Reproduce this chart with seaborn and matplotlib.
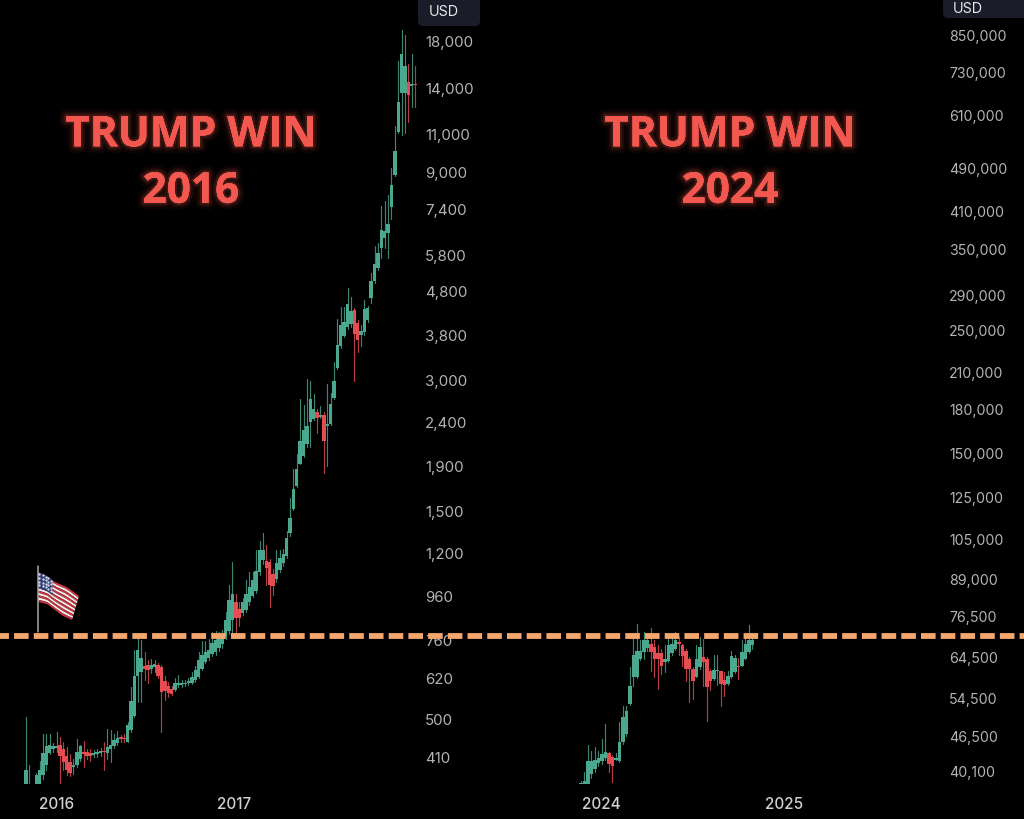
import numpy as np
import pandas as pd
import seaborn as sns
import matplotlib.pyplot as plt
import matplotlib.patheffects as pe
from matplotlib.patches import FancyBboxPatch, Polygon

# weekly BTC candles around the 2016 election
left_start = "2015-10-29"
left_open = [
    340, 335, 340, 350, 345, 371, 392, 418, 425, 428,
    436, 425, 410, 397, 388, 391, 403, 420, 420, 418,
    412, 414, 416, 421, 418, 425, 432, 440, 453, 451,
    443, 472, 508, 625, 640, 660, 662, 650, 655, 665,
    655, 610, 595, 585, 582, 597, 598, 601, 604, 605,
    612, 624, 650, 675, 690, 705, 712, 725, 740, 772,
    795, 842, 925, 890, 875, 885, 925, 955, 980, 1085,
    1155, 1150, 1145, 1075, 1045, 1095, 1135, 1180, 1335, 1510,
    1710, 1920, 2000, 2130, 2400, 2430, 2530, 2460, 2490, 2340,
    2370, 2720, 3180, 3570, 3780, 3950, 4020, 4330, 4050, 3800,
    3850, 4100, 4600, 5050, 5400, 6010, 6320, 6500, 7450, 8850,
    11100, 13600, 13600, 14400, 14100, 14300,
]
left_high = [
    505, 392, 350, 376, 400, 462, 462, 461, 440, 465,
    453, 441, 430, 414, 403, 448, 435, 444, 426, 425,
    424, 425, 428, 441, 473, 470, 461, 468, 458, 460,
    490, 590, 719, 770, 758, 712, 682, 685, 682, 672,
    665, 625, 608, 595, 620, 630, 612, 612, 620, 640,
    660, 712, 755, 755, 760, 790, 795, 790, 800, 880,
    1010, 1145, 965, 925, 945, 1038, 1085, 1085, 1215, 1280,
    1335, 1250, 1160, 1100, 1215, 1215, 1225, 1350, 1600, 1870,
    2020, 2710, 2620, 3000, 2980, 2780, 2570, 2600, 2530, 2920,
    2790, 3290, 4120, 4400, 4400, 4870, 4630, 4380, 4100, 4000,
    4550, 4420, 5270, 6060, 6170, 7500, 7700, 7930, 9140, 11440,
    16100, 19000, 18500, 15900, 16700, 15700,
]
left_low = [
    330, 330, 325, 340, 340, 364, 382, 415, 420, 420,
    354, 382, 371, 369, 373, 388, 400, 388, 405, 400,
    408, 408, 410, 382, 403, 397, 428, 435, 443, 441,
    441, 467, 505, 545, 545, 612, 605, 635, 640, 618,
    467, 553, 560, 565, 580, 590, 590, 595, 597, 600,
    608, 620, 645, 670, 680, 695, 700, 715, 725, 760,
    780, 780, 770, 815, 865, 880, 910, 950, 970, 1070,
    1130, 1010, 900, 960, 1030, 1085, 1120, 1165, 1310, 1505,
    1695, 1920, 1990, 2100, 2100, 2420, 2260, 2440, 1830, 1900,
    2360, 2710, 3170, 3540, 3750, 3920, 3950, 2980, 3470, 3580,
    3800, 4070, 4480, 4980, 5350, 5700, 6000, 5700, 7000, 8800,
    11000, 10900, 11000, 11700, 12650, 12650,
]
left_close = [
    382, 350, 345, 372, 381, 418, 432, 434, 432, 432,
    410, 397, 382, 376, 391, 420, 432, 414, 410, 410,
    417, 420, 421, 419, 430, 436, 447, 452, 449, 448,
    483, 550, 625, 720, 690, 650, 645, 665, 668, 625,
    575, 578, 573, 570, 605, 604, 604, 605, 611, 624,
    647, 682, 700, 712, 719, 745, 757, 765, 780, 842,
    935, 965, 850, 850, 925, 965, 1000, 1040, 1090, 1215,
    1215, 1110, 1010, 1005, 1140, 1170, 1190, 1300, 1445, 1685,
    1865, 2165, 2290, 2350, 2710, 2570, 2450, 2490, 2170, 2370,
    2640, 2970, 3590, 4000, 4060, 4470, 4300, 3810, 3690, 3880,
    4350, 4380, 5050, 5530, 5855, 6600, 6570, 6810, 8360, 10000,
    13000, 16700, 15700, 13500, 14300, 14200,
]
left_ticks = [18000, 14000, 11000, 9000, 7400, 5800, 4800, 3800, 3000,
              2400, 1900, 1500, 1200, 960, 760, 620, 500, 410]
left_years = ["2016", "2017"]

# weekly BTC candles before the 2024 election
right_start = "2023-11-22"
right_open = [
    37900, 37900, 37500, 39600, 40400, 41400, 41800, 42300, 43200, 42500,
    42000, 41800, 45200, 46800, 53000, 59300, 59300, 63900, 65700, 66700,
    68000, 67000, 65500, 65300, 63100, 63400, 65300, 66600, 68400, 67700,
    66000, 63900, 61300, 59300, 61800, 64300, 63900, 60700, 58800, 60800,
    60700, 58600, 57600, 59300, 60500, 62000, 62000, 63900, 65700, 67500,
]
right_high = [
    38500, 40000, 44700, 43600, 44300, 43500, 45800, 48800, 43400, 42800,
    43200, 49100, 52600, 52600, 61800, 69500, 73700, 68900, 71500, 70000,
    72700, 69000, 67500, 66500, 67500, 70000, 69500, 71500, 70000, 68000,
    66400, 64300, 61700, 67500, 70000, 69400, 64300, 61100, 64900, 64800,
    60800, 60500, 60800, 66000, 65000, 64000, 69000, 70000, 73400, 69800,
]
right_low = [
    37500, 37500, 37500, 39000, 40000, 41000, 41300, 41900, 39900, 38300,
    41900, 41700, 44900, 46300, 52700, 57000, 59000, 63500, 63900, 65900,
    60800, 59300, 56400, 60000, 60500, 63000, 65000, 66200, 65000, 61900,
    58300, 53400, 54100, 59200, 61300, 57000, 49400, 56000, 58400, 57300,
    52400, 54700, 57400, 59000, 60200, 58800, 61900, 63800, 65300, 66500,
]
right_close = [
    38200, 38500, 41800, 41800, 42000, 42400, 43000, 43300, 41300, 41000,
    42300, 45200, 50200, 51500, 57100, 64800, 66000, 66000, 69000, 68900,
    65700, 63900, 63900, 62100, 63700, 67500, 68000, 68900, 68000, 64700,
    61300, 61300, 58300, 63900, 67200, 63100, 56900, 58300, 61000, 61000,
    57500, 57200, 59500, 64600, 64000, 61600, 65700, 68000, 69000, 69000,
]
right_ticks = [850000, 730000, 610000, 490000, 410000, 350000, 290000, 250000,
               210000, 180000, 150000, 125000, 105000, 89000, 76500, 64500,
               54500, 46500, 40100]
right_years = ["2024", "2025"]

GREEN = "#4aa88e"
RED = "#e54d52"
TICK_COLOR = "#b4b4b4"


def draw_candles(ax, start, opens, highs, lows, closes):
    dates = pd.date_range(start, periods=len(opens), freq="7D")
    df = pd.DataFrame({"date": dates, "open": opens, "high": highs,
                       "low": lows, "close": closes})
    df["direction"] = np.where(df["close"] >= df["open"], "up", "down")

    # wicks, one short line per candle
    wicks = df.melt(id_vars=["date", "direction"], value_vars=["high", "low"],
                    value_name="price")
    sns.lineplot(data=wicks, x="date", y="price", units="date", estimator=None,
                 hue="direction", palette={"up": GREEN, "down": RED},
                 linewidth=0.85, alpha=0.8, legend=False, ax=ax)

    # bodies
    bottoms = df[["open", "close"]].min(axis=1)
    heights = (df["close"] - df["open"]).abs()
    colors = [GREEN if d == "up" else RED for d in df["direction"]]
    ax.bar(df["date"], heights, bottom=bottoms, width=7, color=colors,
           linewidth=0, zorder=3)


def style_axis(ax, ticks, years, xlim, ylim, pad, tick_size):
    ax.set_yscale("log")
    ax.set_xlim(pd.Timestamp(xlim[0]), pd.Timestamp(xlim[1]))
    ax.set_ylim(*ylim)
    ax.yaxis.tick_right()
    ax.set_yticks(ticks)
    ax.set_yticklabels([f"{t:,}" for t in ticks], color=TICK_COLOR, fontsize=tick_size)
    ax.minorticks_off()
    ax.set_xticks([pd.Timestamp(f"{y}-01-01") for y in years])
    ax.set_xticklabels(years, color="#d0d0d0", fontsize=11, fontweight="medium")
    ax.tick_params(axis="y", length=0, pad=pad)
    ax.tick_params(axis="x", length=0, pad=8.5)
    ax.set_xlabel("")
    ax.set_ylabel("")
    ax.grid(False)
    sns.despine(ax=ax, left=True, bottom=True, right=True, top=True)


def draw_flag(ov):
    xs = np.linspace(0, 1, 5)
    top_x, top_y = [38, 47, 55, 67, 79], [573, 577, 583, 588, 597]
    bot_x, bot_y = [38, 47, 55, 63, 72], [603, 605, 611, 617, 621]

    def point(u, v):
        x0, y0 = np.interp(u, xs, top_x), np.interp(u, xs, top_y)
        x1, y1 = np.interp(u, xs, bot_x), np.interp(u, xs, bot_y)
        return x0 + (x1 - x0) * v, y0 + (y1 - y0) * v

    def patch(u0, u1, v0, v1, color):
        us = np.linspace(u0, u1, 12)
        upper = [point(u, v0) for u in us]
        lower = [point(u, v1) for u in us[::-1]]
        ov.add_patch(Polygon(upper + lower, closed=True, color=color, linewidth=0))

    ov.plot([37.5, 37.5], [567, 633], color="#a8a8a8", linewidth=1.1)
    for i in range(13):
        patch(0, 1, i / 13, (i + 1) / 13, "#c8323c" if i % 2 == 0 else "#f4f0ee")
    patch(0, 0.42, 0, 7 / 13, "#2f3f78")
    for i in range(4):
        for j in range(5):
            sx, sy = point(0.04 + j * 0.085, 0.05 + i * 0.125)
            ov.plot(sx, sy, ".", color="#e8e8f0", markersize=1.2)


def main():
    sns.set_theme(style="dark", rc={"axes.facecolor": "black",
                                    "figure.facecolor": "black"})
    plt.rcParams["font.family"] = ["Inter", "DejaVu Sans"]

    fig = plt.figure(figsize=(10.24, 8.2), dpi=100)
    bottom = 1 - 785 / 820
    height = 785 / 820
    ax1 = fig.add_axes([0, bottom, 420 / 1024, height])
    ax2 = fig.add_axes([500 / 1024, bottom, 443 / 1024, height])

    draw_candles(ax1, left_start, left_open, left_high, left_low, left_close)
    draw_candles(ax2, right_start, right_open, right_high, right_low, right_close)

    style_axis(ax1, left_ticks, left_years, ("2015-09-05", "2018-01-21"),
               (354, 22360), 3.5, 10.8)
    style_axis(ax2, right_ticks, right_years, ("2023-06-13", "2025-11-15"),
               (37990, 986000), 4.3, 10.2)

    # overlay in pixel coordinates for the annotations
    ov = fig.add_axes([0, 0, 1, 1], zorder=10)
    ov.set_xlim(0, 1024)
    ov.set_ylim(820, 0)
    ov.axis("off")
    ov.patch.set_alpha(0)

    draw_flag(ov)

    # resistance line across both panels
    ov.plot([0, 1024], [636.5, 636.5], color="#f3a66e", linewidth=4.2,
            linestyle=(0.97, (2.5, 0.88)), dash_capstyle="butt")

    glow = [pe.withStroke(linewidth=10, foreground="#f0584e", alpha=0.05),
            pe.withStroke(linewidth=6, foreground="#f0584e", alpha=0.09),
            pe.withStroke(linewidth=3, foreground="#f0584e", alpha=0.16),
            pe.Normal()]
    for cx, year in [(191, "2016"), (730, "2024")]:
        ov.text(cx, 165, f"TRUMP WIN\n{year}", color="#f2584f", fontsize=30.5,
                fontweight="bold", family="Open Sans", ha="center", va="center",
                linespacing=1.5, path_effects=glow)

    for x0, y0, w, h, tx, ty in [(418, -12, 62, 39, 444, 12), (943, -20, 90, 39, 968, 9)]:
        ov.add_patch(FancyBboxPatch((x0, y0), w, h,
                                    boxstyle="round,pad=0,rounding_size=5",
                                    facecolor="#1a1d29", edgecolor="none"))
        ov.text(tx, ty, "USD", color="#e8e8e8", fontsize=10.3, ha="center", va="center")

    fig.savefig("out.png", dpi=100, facecolor="black")


if __name__ == "__main__":
    main()
